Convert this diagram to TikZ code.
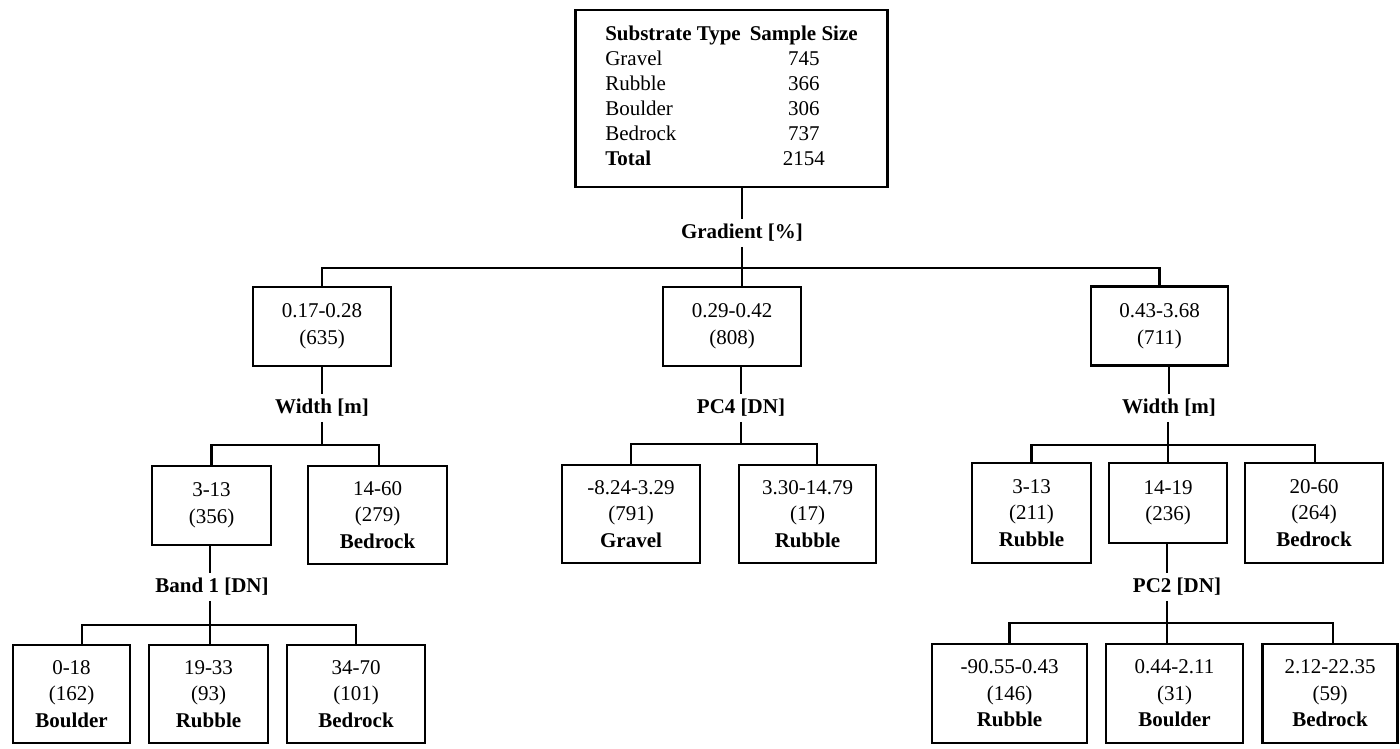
\documentclass[tikz,border=0pt]{standalone}
\usepackage{fontspec}
\setmainfont{Liberation Serif}
\begin{document}
\begin{tikzpicture}[x=1pt,y=-1pt,
  box/.style={draw, line width=2.4pt, align=center, inner sep=0pt,
    font=\fontsize{21}{26.5}\selectfont},
  lab/.style={font=\fontsize{21}{24}\selectfont\bfseries, inner sep=5pt},
  link/.style={line width=2.4pt}]
\useasboundingbox (0,0) rectangle (1400,749);

% root table
\node[draw, line width=2.4pt, minimum width=312pt, minimum height=177pt, inner sep=0pt,
      font=\fontsize{21}{25}\selectfont] (root) at (731.5,98.5)
  {\begin{tabular}{@{}l@{\hspace{9pt}}c@{}}
     \textbf{Substrate Type} & \textbf{Sample Size}\\
     Gravel  & 745\\
     Rubble  & 366\\
     Boulder & 306\\
     Bedrock & 737\\
     \textbf{Total} & 2154
   \end{tabular}};

% split labels
\node[lab] (grad) at (742,233) {Gradient [\%]};
\node[lab] (w1)   at (322,408) {Width [m]};
\node[lab] (pc4)  at (741,408) {PC4 [DN]};
\node[lab] (w3)   at (1169,408) {Width [m]};
\node[lab] (band) at (212,587) {Band 1 [DN]};
\node[lab] (pc2)  at (1177,587) {PC2 [DN]};

% first level
\node[box, minimum width=138pt, minimum height=79pt] (g1) at (322,326.5) {0.17-0.28\\(635)};
\node[box, minimum width=138pt, minimum height=79pt] (g2) at (732,326.5) {0.29-0.42\\(808)};
\node[box, minimum width=137pt, minimum height=79pt] (g3) at (1159.5,326) {0.43-3.68\\(711)};

% second level
\node[box, minimum width=119pt, minimum height=79pt] (a1) at (211.5,505.5) {3-13\\(356)};
\node[box, minimum width=139pt, minimum height=98pt] (a2) at (377.5,515) {14-60\\(279)\\\textbf{Bedrock}};
\node[box, minimum width=138pt, minimum height=98pt] (b1) at (631,514) {-8.24-3.29\\(791)\\\textbf{Gravel}};
\node[box, minimum width=137pt, minimum height=98pt] (b2) at (807.5,514) {3.30-14.79\\(17)\\\textbf{Rubble}};
\node[box, minimum width=119pt, minimum height=100pt] (c1) at (1031.5,513) {3-13\\(211)\\\textbf{Rubble}};
\node[box, minimum width=118pt, minimum height=80pt] (c2) at (1168,503) {14-19\\(236)};
\node[box, minimum width=138pt, minimum height=100pt] (c3) at (1314,513) {20-60\\(264)\\\textbf{Bedrock}};

% third level
\node[box, minimum width=117pt, minimum height=98pt] (d1) at (71.5,694) {0-18\\(162)\\\textbf{Boulder}};
\node[box, minimum width=119pt, minimum height=98pt] (d2) at (208.5,694) {19-33\\(93)\\\textbf{Rubble}};
\node[box, minimum width=138pt, minimum height=98pt] (d3) at (356,694) {34-70\\(101)\\\textbf{Bedrock}};
\node[box, minimum width=155pt, minimum height=99pt] (e1) at (1009.5,693.5) {-90.55-0.43\\(146)\\\textbf{Rubble}};
\node[box, minimum width=137pt, minimum height=99pt] (e2) at (1174.5,693.5) {0.44-2.11\\(31)\\\textbf{Boulder}};
\node[box, minimum width=135pt, minimum height=99pt] (e3) at (1330,693.5) {2.12-22.35\\(59)\\\textbf{Bedrock}};

% junction points of the bracket connectors
\coordinate (j0) at (742,268);
\coordinate (j1) at (322,445);
\coordinate (j2) at (741,444);
\coordinate (j3) at (1168,445);
\coordinate (j4) at (210,625);
\coordinate (j5) at (1167,623);

% root -> gradient split
\draw[link] (root.south -| grad) -- (grad.north);
\draw[link] (grad.south) -- (j0);
\draw[link] (g1.north) |- (j0) -| (g3.north);
\draw[link] (j0) -- (j0 |- g2.north);

% left branch
\draw[link] (g1.south) -- (w1.north);
\draw[link] (w1.south) -- (j1);
\draw[link] (a1.north) |- (j1) -| ([xshift=1.5pt]a2.north);

% middle branch
\draw[link] (g2.south -| pc4) -- (pc4.north);
\draw[link] (pc4.south) -- (j2);
\draw[link] (b1.north) |- (j2) -| ([xshift=9.5pt]b2.north);

% right branch
\draw[link] (g3.south -| w3) -- (w3.north);
\draw[link] (w3.south -| j3) -- (j3);
\draw[link] (c1.north) |- (j3) -| ([xshift=1pt]c3.north);
\draw[link] (j3) -- (c2.north);

% band 1 split
\draw[link] (a1.south -| j4) -- (j4 |- band.north);
\draw[link] (j4 |- band.south) -- (j4);
\draw[link] ([xshift=10.5pt]d1.north) |- (j4) -| (d3.north);
\draw[link] (j4) -- (j4 |- d2.north);

% PC2 split
\draw[link] (c2.south -| j5) -- (j5 |- pc2.north);
\draw[link] (j5 |- pc2.south) -- (j5);
\draw[link] (e1.north) |- (j5) -| ([xshift=3pt]e3.north);
\draw[link] (j5) -- (j5 |- e2.north);
\end{tikzpicture}
\end{document}
